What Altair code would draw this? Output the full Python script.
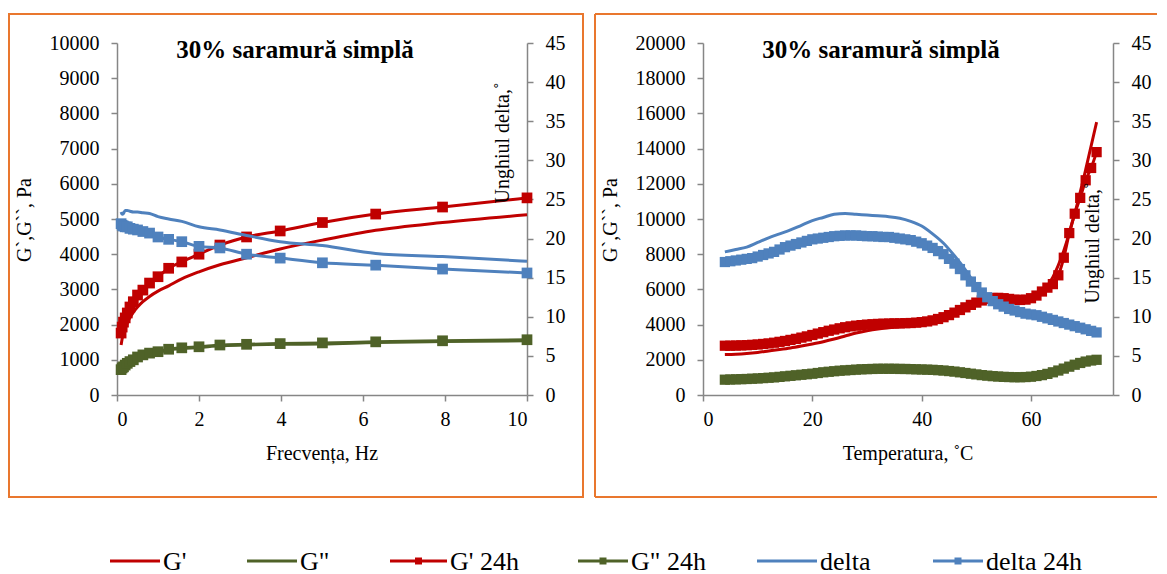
import altair as alt
import pandas as pd

FONT = "Liberation Serif, Times New Roman, serif"
RED = "#C00000"
GREEN = "#4F6228"
BLUE = "#4F81BD"
ORANGE = "#E9772E"
GRAY = "#868686"

SERIES = ["G'", 'G"', "G' 24h", 'G" 24h', "delta", "delta 24h"]
SERIES_COLORS = [RED, GREEN, RED, GREEN, BLUE, BLUE]
TITLE = "30% saramură simplă"

# ---------------- left panel: frequency sweep ----------------
freq = [0.1, 0.126, 0.158, 0.2, 0.251, 0.316, 0.398, 0.501, 0.631, 0.794, 1.0,
        1.26, 1.58, 2.0, 2.51, 3.16, 3.98, 5.01, 6.31, 7.94, 10.0]
f_gp = [1420, 1600, 1750, 1900, 2050, 2200, 2350, 2500, 2650, 2800, 2950,
        3100, 3300, 3500, 3700, 3900, 4150, 4400, 4680, 4900, 5120]
f_gpp = [700, 750, 780, 830, 880, 930, 980, 1060, 1120, 1170, 1210,
         1280, 1320, 1350, 1400, 1420, 1440, 1450, 1490, 1520, 1540]
f_gp24 = [1760, 1930, 2070, 2190, 2330, 2500, 2650, 2840, 2980, 3180, 3360,
          3600, 3780, 4000, 4260, 4490, 4660, 4900, 5140, 5340, 5600]
f_gpp24 = [720, 770, 800, 850, 900, 950, 1000, 1080, 1140, 1190, 1230,
           1300, 1340, 1370, 1420, 1440, 1460, 1480, 1510, 1540, 1570]
f_delta = [23.4, 23.1, 23.2, 23.6, 23.6, 23.5, 23.4, 23.4, 23.3, 23.2, 22.8,
           22.5, 22.2, 21.5, 21.1, 20.4, 19.6, 19.1, 18.1, 17.7, 17.1]
f_delta24 = [21.9, 21.7, 21.6, 21.5, 21.5, 21.3, 21.2, 21.1, 20.9, 20.7, 20.2,
             19.9, 19.6, 19.0, 18.8, 18.0, 17.5, 16.9, 16.6, 16.1, 15.6]

# ---------------- right panel: temperature sweep ----------------
temp_thin = [4, 6, 8, 10, 12, 14, 16, 18, 20, 22, 24, 26, 28, 30, 32, 34, 36, 38,
             40, 42, 44, 46, 48, 50, 52, 54, 56, 58, 60, 62, 64, 66, 68, 70, 72]
t_gp = [2300, 2320, 2360, 2420, 2500, 2580, 2670, 2780, 2900, 3030, 3180, 3350,
        3520, 3650, 3750, 3820, 3880, 3940, 4020, 4150, 4350, 4620, 4950, 5250,
        5450, 5500, 5420, 5330, 5350, 5800, 6700, 8200, 10300, 12800, 15500]
t_gpp = [860, 880, 900, 930, 970, 1020, 1080, 1140, 1200, 1280, 1340, 1390,
         1430, 1460, 1480, 1480, 1470, 1460, 1440, 1420, 1380, 1320, 1240, 1160,
         1090, 1040, 1010, 1000, 1030, 1120, 1280, 1490, 1710, 1890, 2010]
t_delta = [18.3, 18.6, 18.9, 19.5, 20.1, 20.6, 21.1, 21.7, 22.3, 22.7, 23.1, 23.2,
           23.1, 23.0, 22.9, 22.8, 22.6, 22.2, 21.6, 20.6, 19.4, 17.8, 16.0, 14.0,
           12.6, 11.7, 11.1, 10.7, 10.4, 10.1, 9.7, 9.3, 8.9, 8.5, 8.2]

temp24 = [4, 5, 6, 7, 8, 9, 10, 11, 12, 13, 14, 15, 16, 17, 18, 19, 20, 21, 22,
          23, 24, 25, 26, 27, 28, 29, 30, 31, 32, 33, 34, 35, 36, 37, 38, 39, 40,
          41, 42, 43, 44, 45, 46, 47, 48, 49, 50, 51, 52, 53, 54, 55, 56, 57, 58,
          59, 60, 61, 62, 63, 64, 65, 66, 67, 68, 69, 70, 71, 72]
t_gp24 = [2800, 2800, 2810, 2820, 2830, 2850, 2870, 2900, 2930, 2970, 3020, 3070,
          3130, 3190, 3260, 3330, 3410, 3490, 3570, 3650, 3720, 3790, 3850, 3900,
          3940, 3970, 4000, 4020, 4040, 4050, 4060, 4070, 4070, 4080, 4090, 4110,
          4140, 4180, 4240, 4320, 4420, 4540, 4680, 4830, 4980, 5120, 5250, 5370,
          5460, 5510, 5520, 5500, 5460, 5420, 5400, 5420, 5500, 5650, 5880, 6100,
          6300, 6800, 7800, 9200, 10300, 11200, 12200, 12900, 13800]
t_gpp24 = [870, 880, 890, 900, 910, 925, 940, 960, 980, 1000, 1030, 1060, 1090,
           1120, 1150, 1180, 1210, 1250, 1290, 1320, 1350, 1380, 1400, 1420, 1440,
           1460, 1470, 1480, 1490, 1490, 1490, 1490, 1480, 1480, 1470, 1460, 1450,
           1440, 1430, 1410, 1390, 1360, 1330, 1290, 1250, 1210, 1170, 1130, 1100,
           1070, 1050, 1030, 1020, 1010, 1010, 1020, 1040, 1080, 1130, 1200, 1290,
           1390, 1500, 1610, 1720, 1820, 1900, 1960, 2000]
t_delta24 = [17.0, 17.1, 17.2, 17.3, 17.4, 17.5, 17.7, 17.9, 18.1, 18.3, 18.6, 18.9,
             19.1, 19.3, 19.5, 19.7, 19.9, 20.0, 20.1, 20.2, 20.3, 20.35, 20.4, 20.4,
             20.4, 20.35, 20.3, 20.3, 20.25, 20.2, 20.2, 20.1, 20.0, 19.9, 19.8, 19.6,
             19.4, 19.1, 18.8, 18.4, 18.0, 17.4, 16.8, 16.1, 15.3, 14.5, 13.8, 13.1,
             12.5, 12.0, 11.6, 11.3, 11.0, 10.8, 10.6, 10.4, 10.3, 10.2, 10.0, 9.8,
             9.6, 9.4, 9.2, 9.0, 8.8, 8.6, 8.4, 8.2, 8.0]

# legend layout (pixels relative to the left plot area)
LEG_X0 = [-7, 130, 273, 461, 640, 816]
LEG_X1 = [43, 180, 330, 511, 700, 866]
LEG_Y = 518


def long_df(parts):
    rows = []
    for name, xs, vs in parts:
        for x, v in zip(xs, vs):
            rows.append({"x": x, "v": v, "s": name})
    return pd.DataFrame(rows)


def text_layer(s, x, y, size=20, angle=0, bold=False, align="center"):
    return alt.Chart(pd.DataFrame({"t": [s]})).mark_text(
        font=FONT, fontSize=size, angle=angle,
        fontWeight="bold" if bold else "normal", align=align,
        baseline="middle", color="black"
    ).encode(x=alt.value(x), y=alt.value(y), text="t:N")


one = pd.DataFrame({"a": [0]})


def legend_layers():
    out = []
    for i, s in enumerate(SERIES):
        c = SERIES_COLORS[i]
        out.append(alt.Chart(one).mark_rule(stroke=c, strokeWidth=3).encode(
            x=alt.value(LEG_X0[i]), x2=alt.value(LEG_X1[i]), y=alt.value(LEG_Y)))
        if "24h" in s:
            out.append(alt.Chart(one).mark_square(size=49, color=c, opacity=1).encode(
                x=alt.value((LEG_X0[i] + LEG_X1[i]) / 2), y=alt.value(LEG_Y)))
        out.append(text_layer(s, LEG_X1[i] + 3, LEG_Y + 1, size=26, align="left"))
    return out


def panel(xs_thin, thin, xs24, s24, xdom, xvals, gdom, gvals, sqsize,
          xtitle, ytitle_pos, extra):
    dfG = long_df([("G'", xs_thin, thin[0]), ('G"', xs_thin, thin[1]),
                   ("G' 24h", xs24, s24[0]), ('G" 24h', xs24, s24[1])])
    dfGp = long_df([("G' 24h", xs24, s24[0]), ('G" 24h', xs24, s24[1])])
    dfD = long_df([("delta", xs_thin, thin[2]), ("delta 24h", xs24, s24[2])])
    dfDp = long_df([("delta 24h", xs24, s24[2])])

    X = alt.X("x:Q", scale=alt.Scale(domain=xdom, nice=False, zero=False),
              axis=alt.Axis(values=xvals, title=None, labelPadding=8,
                            labelFont=FONT, format="d"))
    color = alt.Color("s:N", scale=alt.Scale(domain=SERIES, range=SERIES_COLORS),
                      legend=None)
    gscale = alt.Scale(domain=gdom, nice=False)
    dscale = alt.Scale(domain=[0, 45], nice=False)

    lineG = alt.Chart(dfG).mark_line(strokeWidth=3, interpolate="monotone").encode(
        x=X, y=alt.Y("v:Q", scale=gscale,
                     axis=alt.Axis(orient="left", values=gvals, title=None,
                                   labelPadding=12, labelFont=FONT, format="d")),
        color=color, order=alt.Order("x:Q"))
    ptsG = alt.Chart(dfGp).mark_square(size=sqsize, opacity=1).encode(
        x=X, y=alt.Y("v:Q", scale=gscale, axis=None), color=color)
    lineD = alt.Chart(dfD).mark_line(strokeWidth=3, interpolate="monotone").encode(
        x=X, y=alt.Y("v:Q", scale=dscale,
                     axis=alt.Axis(orient="right", values=list(range(0, 46, 5)),
                                   title=None, labelPadding=12, labelFont=FONT,
                                   format="d")),
        color=color, order=alt.Order("x:Q"))
    ptsD = alt.Chart(dfDp).mark_square(size=sqsize, opacity=1).encode(
        x=X, y=alt.Y("v:Q", scale=dscale, axis=None), color=color)

    layers = list(extra) + [
        lineG, ptsG, lineD, ptsD,
        text_layer(TITLE, 178, 7, size=25, bold=True),
        text_layer("G`,G``, Pa", -92, 177, angle=270),
        text_layer("Unghiul delta,˚", ytitle_pos[0], ytitle_pos[1], angle=270),
        text_layer(xtitle, 205, 411),
    ]
    return alt.layer(*layers).resolve_scale(y="independent").properties(
        width=410, height=352)


frame_left = [alt.Chart(one).mark_rect(filled=False, stroke=ORANGE, strokeWidth=2).encode(
    x=alt.value(-108), x2=alt.value(466), y=alt.value(-29), y2=alt.value(454))]
frame_right = [
    alt.Chart(one).mark_rule(stroke=ORANGE, strokeWidth=2).encode(
        x=alt.value(-108), x2=alt.value(454), y=alt.value(-29)),
    alt.Chart(one).mark_rule(stroke=ORANGE, strokeWidth=2).encode(
        x=alt.value(-108), x2=alt.value(454), y=alt.value(454)),
    alt.Chart(one).mark_rule(stroke=ORANGE, strokeWidth=2).encode(
        x=alt.value(-108), y=alt.value(-29), y2=alt.value(454)),
]

left = panel(freq, [f_gp, f_gpp, f_delta], freq, [f_gp24, f_gpp24, f_delta24],
             [0, 10], [0, 2, 4, 6, 8, 10], [0, 10000],
             list(range(0, 10001, 1000)), 115, "Frecvența, Hz", (386, 100),
             frame_left + legend_layers())
right = panel(temp_thin, [t_gp, t_gpp, t_delta], temp24,
              [t_gp24, t_gpp24, t_delta24], [0, 75], [0, 20, 40, 60],
              [0, 20000], list(range(0, 20001, 2000)), 105, "Temperatura, ˚C",
              (390, 200), frame_right)

chart = alt.hconcat(left, right, spacing=176, bounds="flush").properties(
    padding={"top": 5, "left": 0, "right": 0, "bottom": 0}
).configure(font=FONT).configure_view(strokeWidth=0).configure_axis(
    grid=False, domainColor=GRAY, domainWidth=1.5, tickColor=GRAY,
    tickWidth=1.5, tickSize=6, labelFont=FONT, labelFontSize=20,
    labelColor="black")

chart.save("out.html", embed_options={"renderer": "svg", "actions": False})
